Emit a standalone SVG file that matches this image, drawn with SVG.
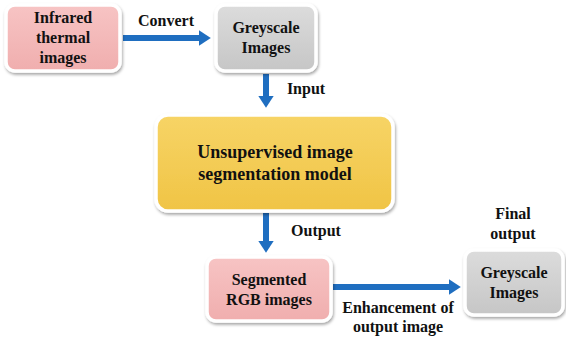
<svg xmlns="http://www.w3.org/2000/svg" width="566" height="343" viewBox="0 0 566 343">
<defs>
<linearGradient id="gPink" x1="0" y1="0" x2="0" y2="1"><stop offset="0" stop-color="#f7c4c4"/><stop offset="1" stop-color="#f0aeae"/></linearGradient>
<linearGradient id="gGrey" x1="0" y1="0" x2="0" y2="1"><stop offset="0" stop-color="#dcdcdc"/><stop offset="1" stop-color="#c6c6c6"/></linearGradient>
<linearGradient id="gYel" x1="0" y1="0" x2="0" y2="1"><stop offset="0" stop-color="#f7d466"/><stop offset="1" stop-color="#f0c445"/></linearGradient>
<filter id="sh" x="-10%" y="-10%" width="125%" height="130%"><feDropShadow dx="1" dy="2" stdDeviation="1.8" flood-color="#000" flood-opacity="0.35"/></filter>
<marker id="ah" markerWidth="3" markerHeight="3" refX="1.2" refY="1.5" orient="auto" markerUnits="strokeWidth" viewBox="0 0 3 3"><path d="M0,0.2 L2,1.5 L0,2.8 Z" fill="#1f6ec0"/></marker>
</defs>
<style>
.box{stroke:#ffffff;stroke-width:3.5;filter:url(#sh)}
text{font-family:"Liberation Serif","DejaVu Serif",serif;font-weight:bold;fill:#111;text-anchor:middle}
.n{font-size:16px}
.b{font-size:18px}
.arr{stroke:#1f6ec0;stroke-width:6;fill:none;marker-end:url(#ah)}
</style>
<g id="connectors">
<line class="arr" x1="123" y1="38" x2="206" y2="38"/>
<line class="arr" x1="266" y1="74" x2="266" y2="103"/>
<line class="arr" x1="266" y1="213" x2="266" y2="248"/>
<line class="arr" x1="333" y1="287" x2="456" y2="287"/>
<text class="n" x="166" y="26">Convert</text>
<text class="n" x="306" y="94">Input</text>
<text class="n" x="316" y="236">Output</text>
<text class="n" x="398" y="313">Enhancement of</text>
<text class="n" x="398" y="332">output image</text>
<text class="n" x="513" y="219">Final</text>
<text class="n" x="513" y="239">output</text>
</g>
<g id="infrared">
<rect class="box" x="6" y="5" width="114" height="66" rx="9" fill="url(#gPink)"/>
<text class="n" x="63" y="23">Infrared</text>
<text class="n" x="63" y="43">thermal</text>
<text class="n" x="63" y="63">images</text>
</g>
<g id="greyscale1">
<rect class="box" x="216" y="5" width="100" height="66" rx="9" fill="url(#gGrey)"/>
<text class="n" x="266" y="33">Greyscale</text>
<text class="n" x="266" y="53">Images</text>
</g>
<g id="model">
<rect class="box" x="156" y="115" width="237" height="96" rx="12" fill="url(#gYel)"/>
<text class="b" x="275" y="158">Unsupervised image</text>
<text class="b" x="275" y="180">segmentation model</text>
</g>
<g id="segmented">
<rect class="box" x="207" y="257" width="124" height="64" rx="9" fill="url(#gPink)"/>
<text class="n" x="269" y="285">Segmented</text>
<text class="n" x="269" y="305">RGB images</text>
</g>
<g id="greyscale2">
<rect class="box" x="465" y="250" width="98" height="65" rx="9" fill="url(#gGrey)"/>
<text class="n" x="514" y="278">Greyscale</text>
<text class="n" x="514" y="298">Images</text>
</g>
</svg>
